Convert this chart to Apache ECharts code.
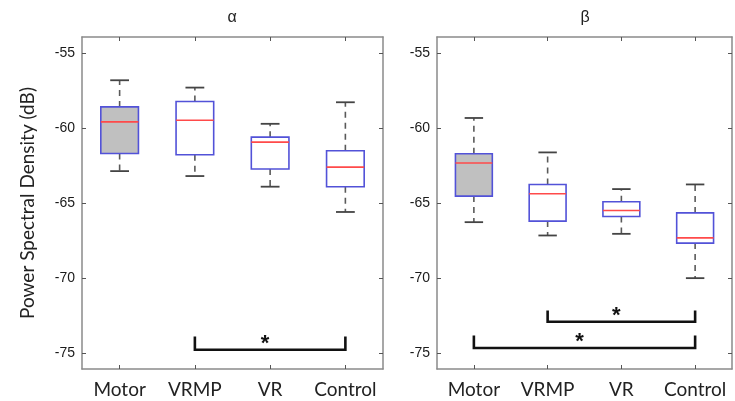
<!DOCTYPE html>
<html>
<head>
<meta charset="utf-8">
<script src="https://cdn.jsdelivr.net/npm/echarts@6/dist/echarts.min.js"></script>
<style>
  html, body { margin: 0; padding: 0; background: #fff; }
  #chart { width: 735px; height: 401px; }
</style>
</head>
<body>
<div id="chart"></div>
<script>
// Two MATLAB-style boxplots (alpha / beta band PSD), drawn with custom series so the
// whiskers, caps, box and median can each have their own colour and dash.

const categories = ['Motor', 'VRMP', 'VR', 'Control'];
const yTicks = [-75, -70, -65, -60, -55];
const yMin = -76.07;
const yMax = -53.89;

// alpha panel
const alphaLower  = [-62.85, -63.18, -63.89, -65.58];
const alphaQ1     = [-61.67, -61.76, -62.71, -63.89];
const alphaMedian = [-59.56, -59.45, -60.91, -62.58];
const alphaQ3     = [-58.56, -58.20, -60.58, -61.49];
const alphaUpper  = [-56.78, -57.27, -59.69, -58.25];

// beta panel
const betaLower  = [-66.26, -67.15, -67.04, -70.00];
const betaQ1     = [-64.52, -66.19, -65.88, -67.66];
const betaMedian = [-62.31, -64.36, -65.48, -67.31];
const betaQ3     = [-61.69, -63.74, -64.90, -65.64];
const betaUpper  = [-59.30, -61.60, -64.05, -63.74];

// significance brackets: [from category, to category, bar level, end-tick top]
const alphaBrackets = [[1, 3, -74.78, -73.90]];
const betaBrackets  = [[1, 3, -72.91, -72.17], [0, 3, -74.67, -73.84]];

const frameColor = '#8a8a8a';
const boxColor = '#5252d8';
const medianColor = '#ff4a4a';
const whiskerColor = '#5a5a5a';

function boxRows(lo, q1, md, q3, hi) {
  return categories.map((c, i) => [i, lo[i], q1[i], md[i], q3[i], hi[i]]);
}

function renderBox(params, api) {
  const idx = api.value(0);
  const lo = api.coord([idx, api.value(1)]);
  const q1 = api.coord([idx, api.value(2)]);
  const md = api.coord([idx, api.value(3)]);
  const q3 = api.coord([idx, api.value(4)]);
  const hi = api.coord([idx, api.value(5)]);
  const band = api.size([1, 0])[0];
  const bw = band * 0.5;
  const cw = bw * 0.5;
  const cx = lo[0];
  const dash = { stroke: whiskerColor, lineWidth: 1.6, lineDash: [6, 5] };
  const cap = { stroke: '#444', lineWidth: 1.8 };
  return {
    type: 'group',
    children: [
      { type: 'line', shape: { x1: cx, y1: q3[1], x2: cx, y2: hi[1] }, style: dash },
      { type: 'line', shape: { x1: cx, y1: q1[1], x2: cx, y2: lo[1] }, style: dash },
      { type: 'line', shape: { x1: cx - cw / 2, y1: hi[1], x2: cx + cw / 2, y2: hi[1] }, style: cap },
      { type: 'line', shape: { x1: cx - cw / 2, y1: lo[1], x2: cx + cw / 2, y2: lo[1] }, style: cap },
      {
        type: 'rect',
        shape: { x: cx - bw / 2, y: q3[1], width: bw, height: q1[1] - q3[1] },
        style: { fill: idx === 0 ? '#c0c0c0' : '#ffffff', stroke: boxColor, lineWidth: 1.6 }
      },
      { type: 'line', shape: { x1: cx - bw / 2, y1: md[1], x2: cx + bw / 2, y2: md[1] },
        style: { stroke: medianColor, lineWidth: 1.6 } }
    ]
  };
}

function renderBracket(params, api) {
  const a = api.coord([api.value(0), api.value(2)]);
  const b = api.coord([api.value(1), api.value(2)]);
  const top = api.coord([api.value(0), api.value(3)])[1];
  return {
    type: 'group',
    children: [
      {
        type: 'polyline',
        shape: { points: [[a[0], top], [a[0], a[1]], [b[0], b[1]], [b[0], top]] },
        style: { stroke: '#111', lineWidth: 2.6, fill: null }
      },
      {
        type: 'text',
        x: (a[0] + b[0]) / 2 - 5,
        y: a[1] - 6,
        style: {
          text: '*', fill: '#111', font: 'bold 22px "Liberation Sans"',
          textAlign: 'center', textVerticalAlign: 'middle'
        }
      }
    ]
  };
}

function xAxisFor(gridIndex, position) {
  const bottom = position === 'bottom';
  return {
    type: 'category', gridIndex, position, data: categories, boundaryGap: true,
    axisLine: { show: true, lineStyle: { color: frameColor, width: 1.5 } },
    axisTick: { show: true, inside: true, alignWithLabel: true, interval: 0, length: 4, lineStyle: { color: '#555' } },
    axisLabel: {
      show: bottom, interval: 0, margin: 11, color: '#222', fontFamily: 'Lato', fontSize: 19
    },
    splitLine: { show: false }
  };
}

function yAxisFor(gridIndex, position, name) {
  const left = position === 'left';
  return {
    type: 'value', gridIndex, position, min: yMin, max: yMax,
    name: name || '', nameLocation: 'middle', nameGap: 45,
    nameTextStyle: { fontFamily: 'Lato', fontSize: 19, color: '#222' },
    axisLine: { show: true, onZero: false, lineStyle: { color: frameColor, width: 1.5 } },
    axisTick: { show: true, inside: true, length: 4, customValues: yTicks, lineStyle: { color: '#555' } },
    axisLabel: {
      show: left, customValues: yTicks, margin: 7, color: '#1a1a1a',
      fontFamily: 'Liberation Sans', fontSize: 14
    },
    splitLine: { show: false }
  };
}

const chart = echarts.init(document.getElementById('chart'));
chart.setOption({
  animation: false,
  backgroundColor: '#ffffff',
  grid: [
    { left: 82, top: 37, width: 301, height: 332 },
    { left: 437, top: 37, width: 295, height: 332 }
  ],
  graphic: [
    { type: 'text', x: 232, y: 18, style: { text: 'α', font: '16px "Liberation Sans"', fill: '#222', textAlign: 'center', textVerticalAlign: 'middle' } },
    { type: 'text', x: 585, y: 18, style: { text: 'β', font: '16px "Liberation Sans"', fill: '#222', textAlign: 'center', textVerticalAlign: 'middle' } }
  ],
  xAxis: [xAxisFor(0, 'bottom'), xAxisFor(1, 'bottom'), xAxisFor(0, 'top'), xAxisFor(1, 'top')],
  yAxis: [
    yAxisFor(0, 'left', 'Power Spectral Density (dB)'), yAxisFor(1, 'left'),
    yAxisFor(0, 'right'), yAxisFor(1, 'right')
  ],
  series: [
    {
      type: 'custom', name: 'alpha', xAxisIndex: 0, yAxisIndex: 0, renderItem: renderBox,
      encode: { x: 0, y: [1, 2, 3, 4, 5] },
      data: boxRows(alphaLower, alphaQ1, alphaMedian, alphaQ3, alphaUpper)
    },
    {
      type: 'custom', name: 'beta', xAxisIndex: 1, yAxisIndex: 1, renderItem: renderBox,
      encode: { x: 0, y: [1, 2, 3, 4, 5] },
      data: boxRows(betaLower, betaQ1, betaMedian, betaQ3, betaUpper)
    },
    {
      type: 'custom', name: 'alpha sig', xAxisIndex: 0, yAxisIndex: 0, renderItem: renderBracket,
      encode: { x: [0, 1], y: [2, 3] }, data: alphaBrackets
    },
    {
      type: 'custom', name: 'beta sig', xAxisIndex: 1, yAxisIndex: 1, renderItem: renderBracket,
      encode: { x: [0, 1], y: [2, 3] }, data: betaBrackets
    }
  ]
});
</script>
</body>
</html>
